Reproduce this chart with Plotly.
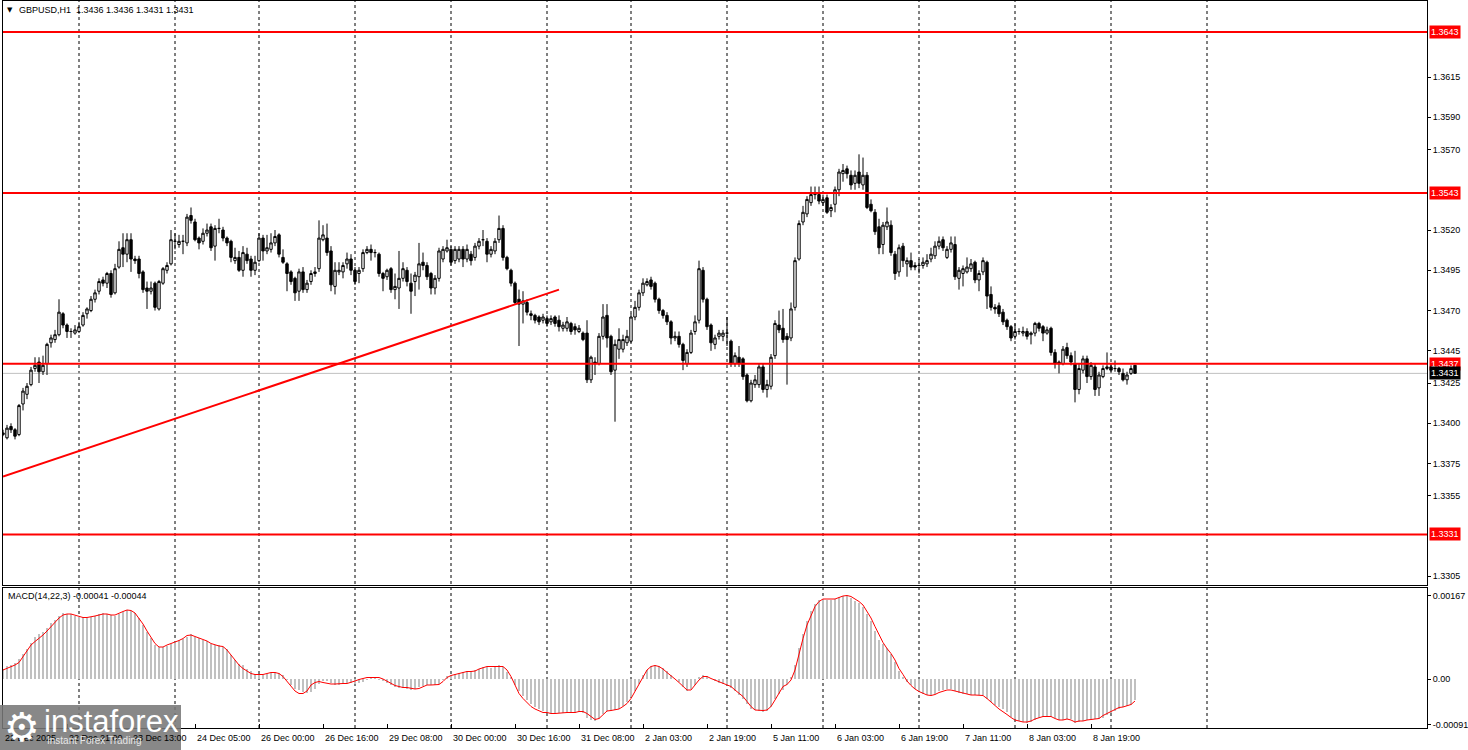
import plotly.graph_objects as go

# ---------------- data (GBPUSD H1) ----------------
opens = [
1.3393,1.3391,1.3398,1.3396,1.3393,1.3412,1.3418,1.3424,1.3434,1.3438,
1.3432,1.3437,1.3450,1.3452,1.3455,1.3468,1.3461,1.3457,1.3456,1.3457,
1.3461,1.3468,1.3470,1.3477,1.3482,1.3489,1.3487,1.3493,1.3481,1.3497,
1.3509,1.3505,1.3514,1.3502,1.3502,1.3494,1.3484,1.3482,1.3487,1.3471,
1.3487,1.3495,1.3499,1.3513,1.3511,1.3513,1.3512,1.3529,1.3525,1.3515,
1.3513,1.3518,1.3522,1.3510,1.3521,1.3520,1.3515,1.3513,1.3501,1.3503,
1.3495,1.3505,1.3502,1.3495,1.3501,1.3515,1.3507,1.3508,1.3512,1.3517,
1.3503,1.3499,1.3494,1.3490,1.3482,1.3494,1.3483,1.3488,1.3493,1.3496,
1.3514,1.3515,1.3507,1.3485,1.3494,1.3494,1.3499,1.3502,1.3495,1.3493,
1.3496,1.3506,1.3508,1.3506,1.3505,1.3493,1.3491,1.3496,1.3483,1.3484,
1.3490,1.3495,1.3487,1.3488,1.3491,1.3500,1.3498,1.3493,1.3484,1.3490,
1.3502,1.3507,1.3508,1.3501,1.3502,1.3508,1.3502,1.3505,1.3503,1.3510,
1.3514,1.3513,1.3505,1.3507,1.3514,1.3521,1.3503,1.3495,1.3487,1.3477,
1.3474,1.3475,1.3468,1.3467,1.3466,1.3464,1.3465,1.3463,1.3466,1.3464,
1.3459,1.3459,1.3462,1.3460,1.3457,1.3456,1.3456,1.3427,1.3438,1.3437,
1.3454,1.3467,1.3454,1.3433,1.3446,1.3446,1.3450,1.3451,1.3466,1.3472,
1.3481,1.3486,1.3489,1.3487,1.3477,1.3470,1.3467,1.3463,1.3453,1.3454,
1.3449,1.3437,1.3444,1.3457,1.3464,1.3495,1.3477,1.3461,1.3449,1.3454,
1.3454,1.3456,1.3451,1.3437,1.3441,1.3440,1.3430,1.3414,1.3424,1.3424,
1.3435,1.3421,1.3423,1.3442,1.3461,1.3459,1.3454,1.3453,1.3472,1.3502,
1.3525,1.3530,1.3537,1.3542,1.3542,1.3537,1.3540,1.3532,1.3536,1.3545,
1.3555,1.3558,1.3554,1.3549,1.3556,1.3548,1.3554,1.3536,1.3531,1.3522,
1.3511,1.3522,1.3523,1.3505,1.3494,1.3510,1.3499,1.3501,1.3498,1.3498,
1.3498,1.3499,1.3502,1.3504,1.3510,1.3514,1.3503,1.3508,1.3511,1.3490,
1.3493,1.3494,1.3496,1.3500,1.3489,1.3494,1.3500,1.3480,1.3472,1.3473,
1.3469,1.3464,1.3460,1.3454,1.3457,1.3456,1.3457,1.3455,1.3456,1.3462,
1.3460,1.3456,1.3459,1.3444,1.3437,1.3437,1.3447,1.3442,1.3437,1.3421,
1.3433,1.3440,1.3429,1.3435,1.3422,1.3429,1.3434,1.3435,1.3434,1.3434,
1.3431,1.3427,1.3431,1.3436]

highs = [
1.3396,1.3399,1.3400,1.3397,1.3412,1.3422,1.3425,1.3435,1.3441,1.3441,
1.3442,1.3450,1.3455,1.3458,1.3477,1.3469,1.3462,1.3459,1.3461,1.3463,
1.3469,1.3472,1.3479,1.3483,1.3490,1.3491,1.3494,1.3495,1.3499,1.3513,
1.3518,1.3518,1.3518,1.3504,1.3504,1.3495,1.3488,1.3488,1.3488,1.3489,
1.3497,1.3500,1.3520,1.3518,1.3517,1.3517,1.3530,1.3534,1.3527,1.3516,
1.3521,1.3524,1.3524,1.3523,1.3527,1.3522,1.3516,1.3514,1.3509,1.3507,
1.3510,1.3509,1.3504,1.3504,1.3518,1.3517,1.3517,1.3518,1.3520,1.3518,
1.3508,1.3500,1.3495,1.3491,1.3496,1.3497,1.3489,1.3495,1.3497,1.3526,
1.3523,1.3524,1.3510,1.3500,1.3500,1.3500,1.3506,1.3505,1.3497,1.3497,
1.3508,1.3510,1.3511,1.3508,1.3506,1.3494,1.3496,1.3497,1.3493,1.3507,
1.3500,1.3497,1.3493,1.3494,1.3512,1.3506,1.3500,1.3494,1.3492,1.3509,
1.3510,1.3514,1.3510,1.3510,1.3510,1.3510,1.3511,1.3507,1.3512,1.3515,
1.3520,1.3515,1.3510,1.3515,1.3529,1.3523,1.3504,1.3496,1.3488,1.3483,
1.3482,1.3477,1.3470,1.3468,1.3467,1.3468,1.3467,1.3467,1.3467,1.3467,
1.3463,1.3466,1.3463,1.3462,1.3461,1.3457,1.3464,1.3442,1.3441,1.3456,
1.3474,1.3474,1.3455,1.3452,1.3459,1.3455,1.3458,1.3468,1.3476,1.3483,
1.3490,1.3490,1.3491,1.3488,1.3478,1.3471,1.3469,1.3464,1.3457,1.3457,
1.3450,1.3446,1.3458,1.3467,1.3501,1.3497,1.3478,1.3462,1.3455,1.3458,
1.3458,1.3466,1.3452,1.3444,1.3448,1.3441,1.3431,1.3427,1.3430,1.3437,
1.3437,1.3427,1.3443,1.3464,1.3470,1.3471,1.3456,1.3475,1.3503,1.3526,
1.3535,1.3541,1.3547,1.3547,1.3547,1.3542,1.3542,1.3536,1.3547,1.3558,
1.3561,1.3560,1.3557,1.3557,1.3567,1.3565,1.3556,1.3539,1.3533,1.3527,
1.3525,1.3534,1.3526,1.3507,1.3511,1.3512,1.3503,1.3506,1.3500,1.3502,
1.3503,1.3505,1.3509,1.3513,1.3516,1.3516,1.3510,1.3516,1.3516,1.3497,
1.3498,1.3503,1.3502,1.3501,1.3495,1.3503,1.3501,1.3485,1.3474,1.3475,
1.3471,1.3465,1.3461,1.3462,1.3459,1.3460,1.3459,1.3457,1.3463,1.3463,
1.3461,1.3460,1.3460,1.3446,1.3439,1.3448,1.3450,1.3444,1.3445,1.3437,
1.3442,1.3442,1.3438,1.3437,1.3432,1.3436,1.3444,1.3437,1.3439,1.3435,
1.3434,1.3432,1.3436,1.3436]

lows = [
1.3392,1.3390,1.3394,1.3390,1.3392,1.3408,1.3415,1.3423,1.3432,1.3425,
1.3430,1.3430,1.3447,1.3450,1.3454,1.3459,1.3453,1.3453,1.3455,1.3456,
1.3460,1.3465,1.3469,1.3475,1.3480,1.3485,1.3484,1.3478,1.3480,1.3496,
1.3497,1.3500,1.3494,1.3499,1.3490,1.3481,1.3471,1.3480,1.3470,1.3470,
1.3486,1.3493,1.3498,1.3508,1.3509,1.3505,1.3510,1.3524,1.3513,1.3508,
1.3511,1.3516,1.3507,1.3501,1.3518,1.3513,1.3510,1.3500,1.3499,1.3494,
1.3491,1.3499,1.3491,1.3492,1.3500,1.3501,1.3505,1.3506,1.3510,1.3503,
1.3499,1.3482,1.3486,1.3476,1.3476,1.3481,1.3481,1.3486,1.3491,1.3494,
1.3513,1.3504,1.3482,1.3480,1.3492,1.3490,1.3496,1.3492,1.3486,1.3487,
1.3494,1.3505,1.3501,1.3503,1.3491,1.3482,1.3489,1.3481,1.3477,1.3471,
1.3488,1.3485,1.3468,1.3479,1.3483,1.3495,1.3489,1.3480,1.3480,1.3488,
1.3500,1.3506,1.3498,1.3499,1.3500,1.3497,1.3500,1.3498,1.3501,1.3508,
1.3510,1.3500,1.3503,1.3505,1.3512,1.3501,1.3495,1.3485,1.3474,1.3448,
1.3462,1.3467,1.3464,1.3462,1.3461,1.3462,1.3460,1.3461,1.3460,1.3457,
1.3457,1.3457,1.3455,1.3455,1.3456,1.3451,1.3425,1.3425,1.3430,1.3436,
1.3452,1.3447,1.3430,1.3401,1.3440,1.3444,1.3448,1.3450,1.3464,1.3470,
1.3479,1.3485,1.3483,1.3475,1.3468,1.3465,1.3461,1.3449,1.3451,1.3447,
1.3433,1.3435,1.3443,1.3455,1.3462,1.3475,1.3458,1.3445,1.3446,1.3452,
1.3451,1.3448,1.3435,1.3435,1.3435,1.3427,1.3413,1.3413,1.3422,1.3422,
1.3419,1.3416,1.3421,1.3440,1.3456,1.3450,1.3424,1.3451,1.3470,1.3501,
1.3523,1.3528,1.3535,1.3539,1.3536,1.3535,1.3530,1.3528,1.3531,1.3541,
1.3550,1.3552,1.3545,1.3545,1.3546,1.3545,1.3533,1.3531,1.3517,1.3505,
1.3505,1.3520,1.3504,1.3489,1.3491,1.3497,1.3491,1.3495,1.3495,1.3493,
1.3496,1.3497,1.3500,1.3502,1.3508,1.3507,1.3502,1.3506,1.3489,1.3483,
1.3485,1.3493,1.3494,1.3487,1.3482,1.3492,1.3471,1.3470,1.3468,1.3466,
1.3461,1.3458,1.3451,1.3452,1.3455,1.3454,1.3452,1.3449,1.3454,1.3457,
1.3451,1.3455,1.3442,1.3434,1.3431,1.3436,1.3440,1.3436,1.3413,1.3418,
1.3431,1.3425,1.3427,1.3417,1.3417,1.3428,1.3433,1.3432,1.3432,1.3430,
1.3426,1.3424,1.3430,1.3431]

closes = [
1.3394,1.3397,1.3396,1.3392,1.3411,1.3420,1.3423,1.3433,1.3436,1.3432,
1.3436,1.3449,1.3453,1.3455,1.3469,1.3461,1.3457,1.3457,1.3458,1.3460,
1.3467,1.3471,1.3477,1.3481,1.3488,1.3487,1.3493,1.3480,1.3496,1.3508,
1.3505,1.3514,1.3502,1.3501,1.3493,1.3483,1.3482,1.3484,1.3472,1.3488,
1.3496,1.3498,1.3514,1.3513,1.3513,1.3513,1.3528,1.3526,1.3514,1.3512,
1.3518,1.3520,1.3509,1.3521,1.3521,1.3515,1.3512,1.3503,1.3503,1.3495,
1.3506,1.3501,1.3495,1.3500,1.3515,1.3507,1.3509,1.3512,1.3516,1.3505,
1.3500,1.3493,1.3488,1.3481,1.3494,1.3483,1.3487,1.3493,1.3494,1.3515,
1.3517,1.3506,1.3486,1.3495,1.3495,1.3498,1.3502,1.3495,1.3488,1.3495,
1.3506,1.3508,1.3506,1.3506,1.3493,1.3490,1.3495,1.3483,1.3485,1.3490,
1.3496,1.3488,1.3482,1.3492,1.3499,1.3498,1.3491,1.3484,1.3490,1.3507,
1.3508,1.3509,1.3500,1.3508,1.3508,1.3502,1.3508,1.3501,1.3510,1.3513,
1.3514,1.3505,1.3508,1.3513,1.3521,1.3503,1.3496,1.3487,1.3475,1.3474,
1.3476,1.3469,1.3467,1.3464,1.3463,1.3466,1.3462,1.3465,1.3462,1.3460,
1.3461,1.3463,1.3457,1.3458,1.3459,1.3452,1.3427,1.3441,1.3437,1.3454,
1.3466,1.3453,1.3432,1.3449,1.3452,1.3452,1.3454,1.3466,1.3472,1.3481,
1.3487,1.3488,1.3485,1.3477,1.3470,1.3467,1.3463,1.3453,1.3454,1.3449,
1.3439,1.3444,1.3456,1.3463,1.3496,1.3477,1.3460,1.3450,1.3453,1.3456,
1.3456,1.3456,1.3437,1.3442,1.3437,1.3429,1.3414,1.3425,1.3427,1.3435,
1.3421,1.3424,1.3441,1.3462,1.3458,1.3452,1.3452,1.3471,1.3501,1.3524,
1.3531,1.3539,1.3542,1.3543,1.3538,1.3539,1.3531,1.3534,1.3545,1.3556,
1.3557,1.3555,1.3548,1.3554,1.3549,1.3554,1.3534,1.3532,1.3519,1.3509,
1.3523,1.3525,1.3506,1.3493,1.3509,1.3501,1.3501,1.3497,1.3497,1.3498,
1.3500,1.3501,1.3505,1.3510,1.3513,1.3509,1.3508,1.3512,1.3491,1.3495,
1.3496,1.3497,1.3499,1.3489,1.3493,1.3501,1.3479,1.3472,1.3471,1.3468,
1.3463,1.3460,1.3453,1.3457,1.3457,1.3457,1.3454,1.3456,1.3462,1.3459,
1.3456,1.3458,1.3444,1.3437,1.3438,1.3446,1.3442,1.3438,1.3421,1.3434,
1.3440,1.3429,1.3436,1.3421,1.3430,1.3434,1.3435,1.3433,1.3434,1.3432,
1.3427,1.3430,1.3434,1.3431]

# MACD(14,22,3) in units of 1e-5
macd_main_1e5 = [
21,27,29,33,41,51,61,73,85,90,
95,103,112,118,127,132,130,130,127,125,
124,123,124,127,130,132,130,128,127,130,
135,138,136,132,122,108,95,83,68,65,
65,67,71,75,78,81,85,90,85,83,
78,76,71,69,68,65,60,48,38,31,
28,21,16,11,9,9,11,13,15,13,
9,-2,-11,-20,-22,-25,-27,-25,-19,-9,
-4,-4,-7,-11,-11,-9,-8,-8,-9,-7,
-5,-2,2,1,-2,-4,-7,-11,-15,-17,
-17,-19,-22,-20,-15,-13,-12,-12,-12,-9,
-2,7,9,11,13,15,16,16,18,21,
25,25,23,25,29,25,15,5,-12,-24,
-33,-42,-49,-55,-60,-64,-65,-67,-67,-67,
-67,-67,-67,-67,-65,-67,-77,-82,-84,-79,
-69,-64,-64,-62,-60,-53,-45,-35,-24,-9,
8,18,27,28,27,23,16,8,0,-5,
-15,-24,-20,-11,3,9,7,0,-4,-7,
-9,-11,-17,-24,-31,-39,-49,-59,-62,-64,
-65,-64,-55,-39,-29,-22,-11,5,29,63,
90,116,136,150,158,160,158,158,160,165,
167,167,162,156,152,145,130,116,96,78,
71,63,51,35,16,5,-5,-12,-19,-24,
-29,-32,-33,-29,-24,-22,-20,-20,-24,-27,
-29,-29,-31,-32,-32,-32,-39,-45,-52,-55,
-60,-65,-75,-79,-84,-86,-87,-86,-82,-77,
-75,-75,-75,-77,-82,-82,-80,-80,-87,-86,
-84,-82,-80,-79,-79,-77,-72,-67,-64,-59,
-55,-53,-51,-41]

macd_signal_1e5 = [
18,21,25,28,33,45,58,68,75,81,
88,96,105,114,122,128,130,130,128,125,
123,123,124,126,128,130,130,128,128,132,
135,138,137,132,122,110,96,83,71,64,
64,68,71,73,77,81,87,88,85,81,
79,76,71,68,66,65,58,48,38,28,
21,16,11,9,9,9,11,13,13,11,
5,-5,-15,-24,-29,-29,-24,-12,-7,-5,
-7,-9,-10,-10,-9,-9,-9,-7,-4,-1,
1,3,3,3,3,0,-4,-9,-13,-15,
-17,-17,-19,-20,-19,-15,-12,-12,-12,-11,
-5,3,7,9,11,13,15,15,16,20,
23,25,25,25,25,25,18,5,-12,-29,
-39,-47,-55,-60,-63,-67,-67,-69,-69,-68,
-67,-67,-67,-67,-65,-65,-69,-75,-81,-79,
-72,-64,-63,-62,-60,-55,-49,-39,-25,-12,
5,18,25,27,25,20,13,7,0,-7,
-15,-22,-22,-12,-2,5,5,1,-2,-5,
-9,-11,-15,-22,-29,-35,-45,-55,-62,-63,
-63,-62,-55,-42,-27,-15,-11,-2,18,51,
81,108,128,145,155,160,160,160,160,163,
166,167,165,160,155,148,136,122,105,88,
73,61,51,38,21,9,-4,-13,-20,-25,
-29,-32,-33,-31,-27,-24,-22,-22,-24,-27,
-29,-31,-32,-32,-32,-33,-39,-47,-53,-60,
-65,-71,-77,-82,-84,-86,-86,-84,-80,-77,
-75,-75,-75,-79,-82,-82,-80,-82,-86,-84,
-84,-82,-81,-80,-79,-73,-69,-65,-60,-57,
-56,-53,-51,-44]

time_labels = ["22 Dec 2025", "22 Dec 21:00", "23 Dec 13:00", "24 Dec 05:00",
               "26 Dec 00:00", "26 Dec 16:00", "29 Dec 08:00", "30 Dec 00:00",
               "30 Dec 16:00", "31 Dec 08:00", "2 Jan 03:00", "2 Jan 19:00",
               "5 Jan 11:00", "6 Jan 03:00", "6 Jan 19:00", "7 Jan 11:00",
               "8 Jan 03:00", "8 Jan 19:00"]
label_step = 16                     # one time label every 16 bars
day_break_bars = [19, 43, 64, 88, 112, 136, 157, 181, 205, 229, 253, 277, 301]

levels = [1.3643, 1.3543, 1.3437, 1.3331]
bid_price = closes[-1]
trend_bars = [0, 139]
trend_prices = [1.3367, 1.3483]

price_ticks = [1.3615, 1.3590, 1.3570, 1.3520, 1.3495, 1.3470, 1.3445,
               1.3425, 1.3400, 1.3375, 1.3355, 1.3305]
macd_ticks = [0.00167, 0.0, -0.00091]
macd_tick_text = ["0.00167", "0.00", "-0.00091"]

# ---------------- figure ----------------
W, H = 1468, 750
ML, MR, MT, MB = 3, 41, 1, 22
PW, PH = W - ML - MR, H - MT - MB

def pxx(X):
    return (X - ML) / PW

def pxy(Y):
    return (H - MB - Y) / PH

bars = list(range(len(closes)))
macd_main = [v * 1e-5 for v in macd_main_1e5]
macd_signal = [v * 1e-5 for v in macd_signal_1e5]

FONT = "Liberation Sans"

fig = go.Figure()

fig.add_trace(go.Candlestick(
    x=bars, open=opens, high=highs, low=lows, close=closes,
    increasing=dict(line=dict(color="black", width=1), fillcolor="white"),
    decreasing=dict(line=dict(color="black", width=1), fillcolor="black"),
    whiskerwidth=0, xaxis="x", yaxis="y", showlegend=False, hoverinfo="skip"))

fig.add_trace(go.Scatter(
    x=trend_bars, y=trend_prices, mode="lines",
    line=dict(color="#ff0000", width=2), xaxis="x", yaxis="y",
    showlegend=False, hoverinfo="skip"))

fig.add_trace(go.Bar(
    x=bars, y=macd_main, width=0.5, marker=dict(color="#c0c0c0", line=dict(width=0)),
    xaxis="x2", yaxis="y2", showlegend=False, hoverinfo="skip"))

fig.add_trace(go.Scatter(
    x=bars, y=macd_signal, mode="lines", line=dict(color="#ff0000", width=1),
    xaxis="x2", yaxis="y2", showlegend=False, hoverinfo="skip"))

shapes = []
# daily separators (dashed)
for b in day_break_bars:
    shapes.append(dict(type="line", xref="x", yref="paper", x0=b, x1=b, y0=0, y1=1,
                       line=dict(color="black", width=1, dash="3px,3px"), layer="below"))
# bid line
shapes.append(dict(type="line", xref="paper", yref="y", x0=0, x1=1, y0=bid_price, y1=bid_price,
                   line=dict(color="#c0c0c0", width=1), layer="below"))
# horizontal levels
for lv in levels:
    shapes.append(dict(type="line", xref="paper", yref="y", x0=0, x1=1, y0=lv, y1=lv,
                       line=dict(color="#ff0000", width=2), layer="above"))
# watermark box
shapes.append(dict(type="rect", xref="paper", yref="paper",
                   x0=pxx(0), x1=pxx(181), y0=pxy(750), y1=pxy(705),
                   fillcolor="rgba(120,120,120,0.88)", line=dict(width=0), layer="above"))

annotations = []
# time labels (left aligned at their tick)
for k, txt in enumerate(time_labels):
    annotations.append(dict(x=k * label_step, xref="x", y=pxy(738), yref="paper",
                            text=txt, showarrow=False, xanchor="left", yanchor="middle",
                            xshift=0, font=dict(family=FONT, size=9, color="black")))
# level price tags
for lv in levels:
    annotations.append(dict(x=1, xref="paper", y=lv, yref="y", text=f"{lv:.4f}",
                            showarrow=False, xanchor="left", yanchor="middle", xshift=2,
                            bgcolor="#ff0000", borderpad=1,
                            font=dict(family=FONT, size=9, color="white")))
annotations.append(dict(x=1, xref="paper", y=bid_price, yref="y", text=f"{bid_price:.4f}",
                        showarrow=False, xanchor="left", yanchor="middle", xshift=2,
                        bgcolor="black", borderpad=1,
                        font=dict(family=FONT, size=9, color="white")))
# header
annotations.append(dict(x=pxx(5), y=pxy(10), xref="paper", yref="paper", text="▼",
                        showarrow=False, xanchor="left", yanchor="middle",
                        font=dict(family="DejaVu Sans", size=7, color="black")))
annotations.append(dict(x=pxx(17), y=pxy(10), xref="paper", yref="paper",
                        text=f"GBPUSD,H1  {opens[-1]:.4f} {highs[-1]:.4f} {lows[-1]:.4f} {closes[-1]:.4f}",
                        showarrow=False, xanchor="left", yanchor="middle",
                        font=dict(family=FONT, size=9, color="black")))
annotations.append(dict(x=pxx(6), y=pxy(596), xref="paper", yref="paper",
                        text=f"MACD(14,22,3) {macd_main[-1]:.5f} {macd_signal[-1]:.5f}",
                        showarrow=False, xanchor="left", yanchor="middle",
                        font=dict(family=FONT, size=9, color="black")))
# watermark text
annotations.append(dict(x=pxx(2), y=pxy(727), xref="paper", yref="paper", text="⚙",
                        showarrow=False, xanchor="left", yanchor="middle",
                        font=dict(family="DejaVu Sans", size=40, color="white")))
annotations.append(dict(x=pxx(42), y=pxy(721), xref="paper", yref="paper", text="instaforex",
                        showarrow=False, xanchor="left", yanchor="middle",
                        font=dict(family=FONT, size=31, color="white")))
annotations.append(dict(x=pxx(45), y=pxy(741), xref="paper", yref="paper",
                        text="Instant Forex Trading",
                        showarrow=False, xanchor="left", yanchor="middle",
                        font=dict(family=FONT, size=10, color="#e6e6e6")))

main_bottom = pxy(585)
macd_top = pxy(588)

axis_common = dict(showline=True, mirror=True, linecolor="black", linewidth=1,
                   showgrid=False, zeroline=False)

fig.update_layout(
    width=W, height=H,
    margin=dict(l=ML, r=MR, t=MT, b=MB, pad=0),
    paper_bgcolor="white", plot_bgcolor="white",
    showlegend=False,
    shapes=shapes, annotations=annotations,
    boxgap=0.4, boxgroupgap=0,
    xaxis=dict(domain=[0, 1], anchor="y", range=[0, 356], showticklabels=False,
               ticks="", rangeslider=dict(visible=False), **axis_common),
    xaxis2=dict(domain=[0, 1], anchor="y2", matches="x", range=[0, 356],
                showticklabels=False, ticks="inside", ticklen=4, tickcolor="black",
                tickvals=[k * label_step for k in range(len(time_labels))], **axis_common),
    yaxis=dict(domain=[main_bottom, 1], anchor="x", side="right",
               range=[1.32996, 1.36622], tickvals=price_ticks,
               ticktext=[f"{t:.4f}" for t in price_ticks],
               ticks="outside", ticklen=3, tickcolor="black",
               tickfont=dict(family=FONT, size=9, color="black"), **axis_common),
    yaxis2=dict(domain=[0, macd_top], anchor="x2", side="right",
                range=[-0.00098, 0.00182], tickvals=macd_ticks, ticktext=macd_tick_text,
                ticks="outside", ticklen=3, tickcolor="black",
                tickfont=dict(family=FONT, size=9, color="black"), **axis_common),
    bargap=0,
)

fig.write_html("out.html",
               config={"displayModeBar": False},
               post_script="document.body.style.margin='0px';document.body.style.overflow='hidden';")
